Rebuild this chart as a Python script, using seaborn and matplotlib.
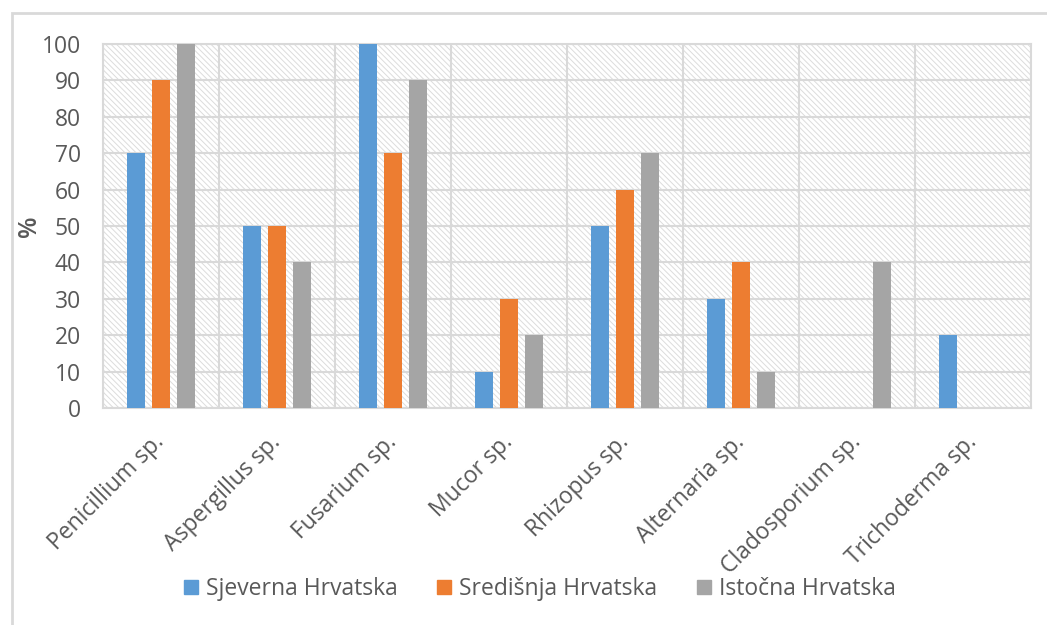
import matplotlib
matplotlib.use("Agg")
import matplotlib.pyplot as plt
import seaborn as sns
import pandas as pd
from matplotlib.patches import Rectangle

# podaci s grafa
categories = ['Penicillium sp.', 'Aspergillus sp.', 'Fusarium sp.', 'Mucor sp.',
              'Rhizopus sp.', 'Alternaria sp.', 'Cladosporium sp.', 'Trichoderma sp.']
regions = ['Sjeverna Hrvatska', 'Središnja Hrvatska', 'Istočna Hrvatska']
sjeverna = [70, 50, 100, 10, 50, 30, 0, 20]
sredisnja = [90, 50, 70, 30, 60, 40, 0, 0]
istocna = [100, 40, 90, 20, 70, 10, 40, 0]
colors = ['#5B9BD5', '#ED7D31', '#A5A5A5']

rows = []
for reg, vals in zip(regions, [sjeverna, sredisnja, istocna]):
    for cat, v in zip(categories, vals):
        rows.append({'Rod': cat, 'Regija': reg, 'Postotak': v})
df = pd.DataFrame(rows)

sns.set_style('white')
plt.rcParams['font.family'] = ['Open Sans', 'DejaVu Sans']
plt.rcParams['hatch.linewidth'] = 0.7
text_col = '#595959'
grid_col = '#D9D9D9'
fs = 16.5

fig = plt.figure(figsize=(10.47, 6.25), dpi=100)
ax = fig.add_axes([0.0984, 0.3472, 0.8863, 0.5824])

# vanjski okvir
fig.patches.append(Rectangle((12 / 1047, -0.1), 1.2, 1 - 13 / 625 + 0.1,
                             transform=fig.transFigure, fill=False,
                             edgecolor=grid_col, linewidth=2, zorder=0))

# šrafirana pozadina
ax.add_patch(Rectangle((0, 0), 1, 1, transform=ax.transAxes, facecolor='white',
                       edgecolor='#DCDCDC', hatch='\\\\\\\\\\\\', linewidth=0, zorder=0))

sns.barplot(data=df, x='Rod', y='Postotak', hue='Regija', order=categories,
            hue_order=regions, palette=colors, saturation=1, width=0.65, gap=0.29,
            linewidth=0, ax=ax, legend=False, zorder=3)

ax.set_xlim(-0.5, len(categories) - 0.5)
ax.set_ylim(0, 100)
ax.set_yticks(range(0, 101, 10))
ax.set_xticks([i + 0.5 for i in range(-1, len(categories))], minor=True)
ax.grid(True, which='minor', axis='x', color=grid_col, linewidth=1.5, zorder=1)
ax.grid(True, which='major', axis='y', color=grid_col, linewidth=1.5, zorder=1)
ax.grid(False, which='major', axis='x')
ax.set_axisbelow(True)
for s in ax.spines.values():
    s.set_visible(True)
    s.set_color(grid_col)
    s.set_linewidth(1.5)

ax.tick_params(axis='both', which='both', length=0, labelsize=fs, labelcolor=text_col)
ax.tick_params(axis='y', pad=16)
ax.set_xlabel('')
ax.set_ylabel('%', fontsize=18, color=text_col, fontweight='semibold')
ax.yaxis.set_label_coords(-0.0657, 0.5)
plt.setp(ax.get_xticklabels(), rotation=45, ha='right', va='center',
         rotation_mode='anchor')
ax.tick_params(axis='x', pad=22)

handles = [Rectangle((0, 0), 1, 1, color=c) for c in colors]
leg = fig.legend(handles, regions, loc='center', bbox_to_anchor=(540 / 1047, 1 - 589 / 625),
                 ncol=3, frameon=False, fontsize=fs, handlelength=0.6, handleheight=0.6,
                 handletextpad=0.35, columnspacing=1.75)
for t in leg.get_texts():
    t.set_color(text_col)

fig.savefig('out.png', dpi=100)
